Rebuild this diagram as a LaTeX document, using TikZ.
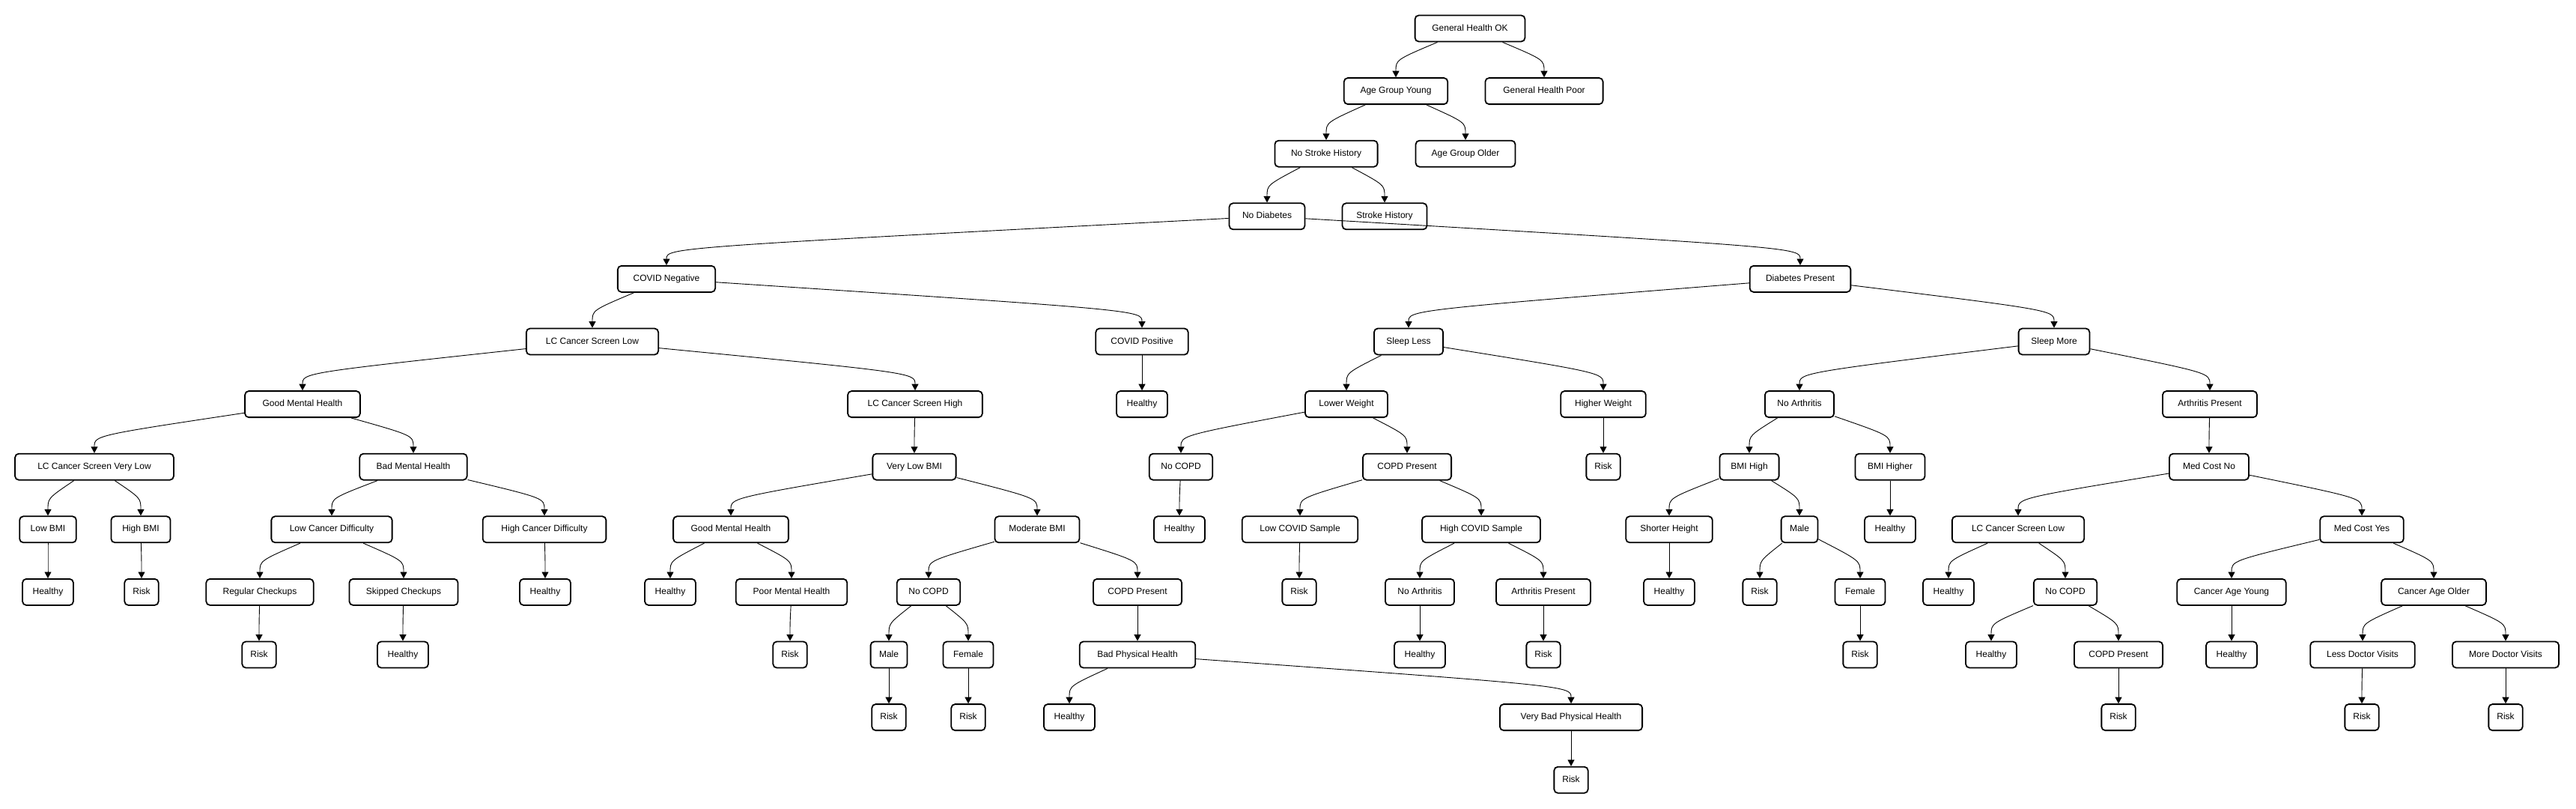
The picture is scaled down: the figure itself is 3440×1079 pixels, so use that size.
\documentclass[tikz,border=0pt]{standalone}
\usepackage{fontspec}
\setmainfont{Liberation Sans}
\usetikzlibrary{arrows.meta,calc}
\newsavebox\wbbox
\newcommand\wb[1]{\sbox\wbbox{#1}\makebox[\dimexpr 13\wd\wbbox/10\relax]{\usebox\wbbox}}
\tikzset{
  bx/.style={draw, line width=1.8pt, rounded corners=5pt, fill=white,
    inner xsep=7.5pt, inner ysep=0pt, minimum height=35pt,
    text height=8.8pt, text depth=2.6pt, font=\fontsize{12}{14}\selectfont},
  edge/.style={line width=0.9pt, -{Triangle[length=8.5pt,width=9pt]}}
}
\begin{document}
\begin{tikzpicture}[x=1pt,y=-1pt]
\useasboundingbox[fill=white] (0,0) rectangle (3440,1079);
% row 0
\node[bx] (gho) at (1963,38) {\wb{General Health OK}};
% row 1
\node[bx] (agy) at (1864,121.6) {\wb{Age Group Young}};
\node[bx] (ghp) at (2062,121.6) {\wb{General Health Poor}};
% row 2
\node[bx] (nsh) at (1771,205.2) {\wb{No Stroke History}};
\node[bx] (ago) at (1957,205.2) {\wb{Age Group Older}};
% row 3
\node[bx] (nd) at (1692,288.8) {\wb{No Diabetes}};
\node[bx] (sh) at (1849,288.8) {\wb{Stroke History}};
% row 4
\node[bx] (cneg) at (890,372.4) {\wb{COVID Negative}};
\node[bx] (dp) at (2404,372.4) {\wb{Diabetes Present}};
% row 5
\node[bx] (lcsl) at (791,456) {\wb{LC Cancer Screen Low}};
\node[bx] (cpos) at (1525,456) {\wb{COVID Positive}};
\node[bx] (sl) at (1881,456) {\wb{Sleep Less}};
\node[bx] (sm) at (2743,456) {\wb{Sleep More}};
% row 6
\node[bx] (gmh) at (404,539.6) {\wb{Good Mental Health}};
\node[bx] (lcsh) at (1222,539.6) {\wb{LC Cancer Screen High}};
\node[bx] (h1) at (1525,539.6) {\wb{Healthy}};
\node[bx] (lw) at (1798,539.6) {\wb{Lower Weight}};
\node[bx] (hw) at (2141,539.6) {\wb{Higher Weight}};
\node[bx] (na) at (2403,539.6) {\wb{No Arthritis}};
\node[bx] (ap) at (2951,539.6) {\wb{Arthritis Present}};
% row 7
\node[bx] (lcsvl) at (126,623.2) {\wb{LC Cancer Screen Very Low}};
\node[bx] (bmh) at (552,623.2) {\wb{Bad Mental Health}};
\node[bx] (vlb) at (1221,623.2) {\wb{Very Low BMI}};
\node[bx] (nc1) at (1577,623.2) {\wb{No COPD}};
\node[bx] (cp1) at (1879,623.2) {\wb{COPD Present}};
\node[bx] (rk1) at (2141,623.2) {\wb{Risk}};
\node[bx] (bh) at (2336,623.2) {\wb{BMI High}};
\node[bx] (bhr) at (2524,623.2) {\wb{BMI Higher}};
\node[bx] (mcn) at (2950,623.2) {\wb{Med Cost No}};
% row 8
\node[bx] (lb) at (64,706.8) {\wb{Low BMI}};
\node[bx] (hb) at (188,706.8) {\wb{High BMI}};
\node[bx] (lcd) at (443,706.8) {\wb{Low Cancer Difficulty}};
\node[bx] (hcd) at (727,706.8) {\wb{High Cancer Difficulty}};
\node[bx] (gmh2) at (976,706.8) {\wb{Good Mental Health}};
\node[bx] (mb) at (1385,706.8) {\wb{Moderate BMI}};
\node[bx] (h2) at (1575,706.8) {\wb{Healthy}};
\node[bx] (lcs) at (1736,706.8) {\wb{Low COVID Sample}};
\node[bx] (hcs) at (1978,706.8) {\wb{High COVID Sample}};
\node[bx] (sth) at (2229,706.8) {\wb{Shorter Height}};
\node[bx] (ml1) at (2403,706.8) {\wb{Male}};
\node[bx] (h3) at (2524,706.8) {\wb{Healthy}};
\node[bx] (lcsl2) at (2695,706.8) {\wb{LC Cancer Screen Low}};
\node[bx] (mcy) at (3154,706.8) {\wb{Med Cost Yes}};
% row 9
\node[bx] (h4) at (64,790.4) {\wb{Healthy}};
\node[bx] (rk2) at (189,790.4) {\wb{Risk}};
\node[bx] (rc) at (347,790.4) {\wb{Regular Checkups}};
\node[bx] (skc) at (539,790.4) {\wb{Skipped Checkups}};
\node[bx] (h5) at (728,790.4) {\wb{Healthy}};
\node[bx] (h6) at (895,790.4) {\wb{Healthy}};
\node[bx] (pmh) at (1057,790.4) {\wb{Poor Mental Health}};
\node[bx] (nc2) at (1240,790.4) {\wb{No COPD}};
\node[bx] (cp2) at (1519,790.4) {\wb{COPD Present}};
\node[bx] (rk3) at (1735,790.4) {\wb{Risk}};
\node[bx] (na2) at (1896,790.4) {\wb{No Arthritis}};
\node[bx] (ap2) at (2061,790.4) {\wb{Arthritis Present}};
\node[bx] (h7) at (2229,790.4) {\wb{Healthy}};
\node[bx] (rk4) at (2350,790.4) {\wb{Risk}};
\node[bx] (fe1) at (2484,790.4) {\wb{Female}};
\node[bx] (h8) at (2602,790.4) {\wb{Healthy}};
\node[bx] (nc3) at (2758,790.4) {\wb{No COPD}};
\node[bx] (cay) at (2980,790.4) {\wb{Cancer Age Young}};
\node[bx] (cao) at (3250,790.4) {\wb{Cancer Age Older}};
% row 10
\node[bx] (rk5) at (346,874) {\wb{Risk}};
\node[bx] (h9) at (538,874) {\wb{Healthy}};
\node[bx] (rk6) at (1055,874) {\wb{Risk}};
\node[bx] (ml2) at (1187,874) {\wb{Male}};
\node[bx] (fe2) at (1293,874) {\wb{Female}};
\node[bx] (bph) at (1519,874) {\wb{Bad Physical Health}};
\node[bx] (h10) at (1896,874) {\wb{Healthy}};
\node[bx] (rk7) at (2061,874) {\wb{Risk}};
\node[bx] (rk8) at (2484,874) {\wb{Risk}};
\node[bx] (h11) at (2659,874) {\wb{Healthy}};
\node[bx] (cp3) at (2829,874) {\wb{COPD Present}};
\node[bx] (h12) at (2980,874) {\wb{Healthy}};
\node[bx] (ldv) at (3155,874) {\wb{Less Doctor Visits}};
\node[bx] (mdv) at (3346,874) {\wb{More Doctor Visits}};
% row 11
\node[bx] (rk9) at (1187,957.6) {\wb{Risk}};
\node[bx] (rk10) at (1293,957.6) {\wb{Risk}};
\node[bx] (h13) at (1428,957.6) {\wb{Healthy}};
\node[bx] (vbph) at (2098,957.6) {\wb{Very Bad Physical Health}};
\node[bx] (rk11) at (2829,957.6) {\wb{Risk}};
\node[bx] (rk12) at (3154,957.6) {\wb{Risk}};
\node[bx] (rk13) at (3346,957.6) {\wb{Risk}};
% row 12
\node[bx] (rk14) at (2098,1041.2) {\wb{Risk}};
% edges
\foreach \p/\c in {gho/agy, gho/ghp, agy/nsh, agy/ago, nsh/nd, nsh/sh, nd/cneg, nd/dp,
  cneg/lcsl, cneg/cpos, dp/sl, dp/sm,
  lcsl/gmh, lcsl/lcsh, cpos/h1, sl/lw, sl/hw, sm/na, sm/ap,
  gmh/lcsvl, gmh/bmh, lcsh/vlb, lw/nc1, lw/cp1, hw/rk1, na/bh, na/bhr, ap/mcn,
  lcsvl/lb, lcsvl/hb, bmh/lcd, bmh/hcd, vlb/gmh2, vlb/mb, nc1/h2, cp1/lcs, cp1/hcs,
  bh/sth, bh/ml1, bhr/h3, mcn/lcsl2, mcn/mcy,
  lb/h4, hb/rk2, lcd/rc, lcd/skc, hcd/h5, gmh2/h6, gmh2/pmh, mb/nc2, mb/cp2,
  lcs/rk3, hcs/na2, hcs/ap2, sth/h7, ml1/rk4, ml1/fe1, lcsl2/h8, lcsl2/nc3, mcy/cay, mcy/cao,
  rc/rk5, skc/h9, pmh/rk6, nc2/ml2, nc2/fe2, cp2/bph, na2/h10, ap2/rk7, fe1/rk8,
  nc3/h11, nc3/cp3, cay/h12, cao/ldv, cao/mdv,
  ml2/rk9, fe2/rk10, bph/h13, bph/vbph, cp3/rk11, ldv/rk12, mdv/rk13,
  vbph/rk14}
  \draw[edge] (\p) .. controls ($(\c)+(0,-41.8)$) .. (\c);
\end{tikzpicture}
\end{document}
